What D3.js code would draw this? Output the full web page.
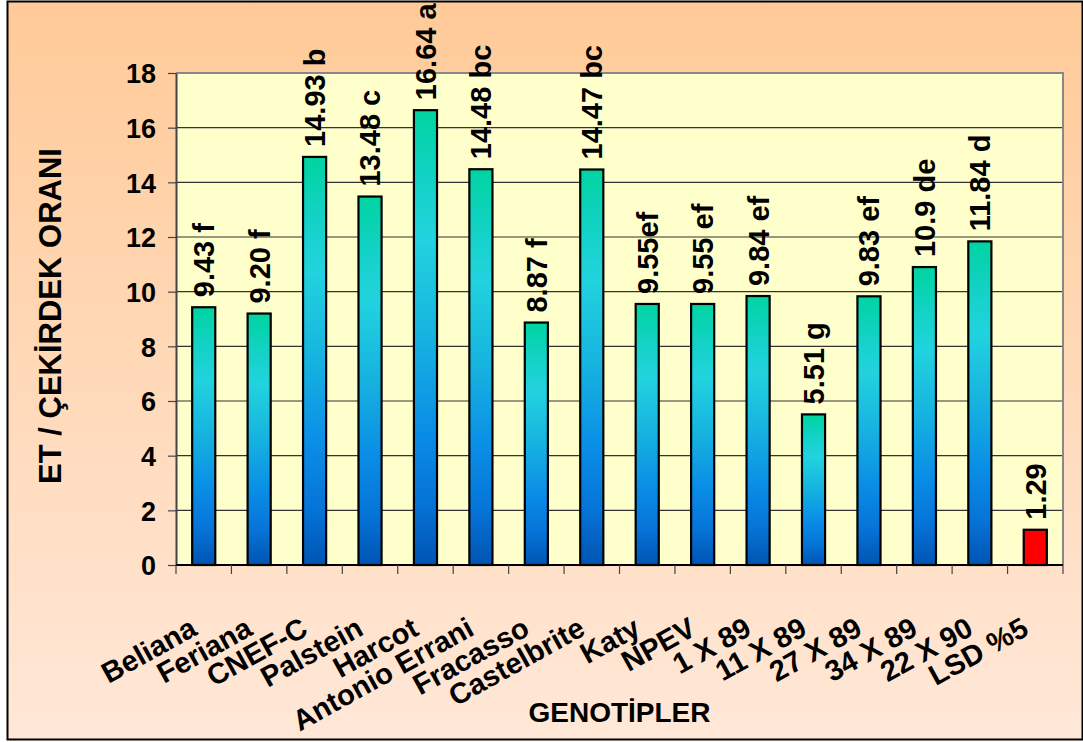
<!DOCTYPE html>
<html><head><meta charset="utf-8">
<script src="https://cdn.jsdelivr.net/npm/d3@7"></script>
<style>html,body{margin:0;padding:0;background:#fff;}svg{display:block;}</style>
</head><body>
<script>
const categories = ["Beliana","Feriana","CNEF-C","Palstein","Harcot","Antonio Errani","Fracasso","Castelbrite","Katy","NPEV","1 X 89","11 X 89","27 X 89","34 X 89","22 X 90","LSD %5"];
const values = [9.43, 9.20, 14.93, 13.48, 16.64, 14.48, 8.87, 14.47, 9.55, 9.55, 9.84, 5.51, 9.83, 10.9, 11.84, 1.29];
const valueLabels = ["9.43 f","9.20 f","14.93 b","13.48 c","16.64 a","14.48 bc","8.87 f","14.47 bc","9.55ef","9.55 ef","9.84 ef","5.51 g","9.83 ef","10.9 de","11.84 d","1.29"];
const yTicks = [0,2,4,6,8,10,12,14,16,18];
const yTitle = "ET / ÇEKİRDEK ORANI";
const xTitle = "GENOTİPLER";

const W = 1083, H = 742;
const plot = {left:176, right:1063, top:73, bottom:565};
const font = "Arial, 'Liberation Sans', sans-serif";

const svg = d3.select("body").append("svg").attr("width", W).attr("height", H);
const defs = svg.append("defs");
const bg = defs.append("linearGradient").attr("id","bg").attr("x1",0).attr("y1",0).attr("x2",0).attr("y2",1);
bg.append("stop").attr("offset","0%").attr("stop-color","#FFCA98");
bg.append("stop").attr("offset","100%").attr("stop-color","#FFE8D8");
const bar = defs.append("linearGradient").attr("id","bar").attr("x1",0).attr("y1",0).attr("x2",0).attr("y2",1);
[["0%","#00D4A0"],["14%","#12D2C4"],["28%","#22D3DE"],["50%","#16B2E0"],["70%","#0A8EE6"],["86%","#0674D8"],["100%","#0054B2"]]
  .forEach(([o,c]) => bar.append("stop").attr("offset",o).attr("stop-color",c));

svg.append("rect").attr("x",7.5).attr("y",1.5).attr("width",1075).attr("height",738)
  .attr("fill","url(#bg)").attr("stroke","#000").attr("stroke-width",2);

const x = d3.scaleBand().domain(categories).range([plot.left, plot.right]).paddingInner(1.4/2.4).paddingOuter(0.7/2.4);
const y = d3.scaleLinear().domain([0,18]).range([plot.bottom, plot.top]);
const step = x.step();

// plot area
svg.append("rect").attr("x",plot.left).attr("y",plot.top).attr("width",plot.right-plot.left).attr("height",plot.bottom-plot.top)
  .attr("fill","#FFFFCC");
// gridlines
svg.append("g").selectAll("line").data(yTicks.filter(d=>d>0)).join("line")
  .attr("x1",plot.left).attr("x2",plot.right).attr("y1",d=>y(d)).attr("y2",d=>y(d))
  .attr("stroke","#333").attr("stroke-width",1.2);
// plot border top/right
svg.append("path").attr("d",`M${plot.left},${plot.top}H${plot.right}V${plot.bottom}`)
  .attr("fill","none").attr("stroke","#888").attr("stroke-width",2);

// y axis
const yAxis = d3.axisLeft(y).tickValues(yTicks).tickSize(8).tickPadding(12).tickSizeOuter(0);
const yg = svg.append("g").attr("transform",`translate(${plot.left},0)`).call(yAxis);
yg.select(".domain").attr("stroke","#444").attr("stroke-width",2);
yg.selectAll(".tick line").attr("stroke","#444").attr("stroke-width",1.2);
yg.selectAll(".tick text").attr("font-family",font).attr("font-weight","bold").attr("font-size",27).attr("fill","#000").attr("dy","0.36em");

// bars
svg.append("g").selectAll("rect").data(values).join("rect")
  .attr("x",(d,i)=>x(categories[i])).attr("width",x.bandwidth())
  .attr("y",d=>y(d)).attr("height",d=>y(0)-y(d))
  .attr("fill",(d,i)=> categories[i]==="LSD %5" ? "#FF0000" : "url(#bar)")
  .attr("stroke","#000").attr("stroke-width",2.2);

// x axis
const xg = svg.append("g");
xg.append("line").attr("x1",plot.left).attr("x2",plot.right).attr("y1",plot.bottom).attr("y2",plot.bottom)
  .attr("stroke","#000").attr("stroke-width",2);
const bounds = d3.range(categories.length+1).map(i => plot.left + i*step);
xg.selectAll("line.t").data(bounds).join("line").attr("class","t")
  .attr("x1",d=>d).attr("x2",d=>d).attr("y1",plot.bottom).attr("y2",plot.bottom+9)
  .attr("stroke","#444").attr("stroke-width",1.2);
xg.selectAll("text").data(categories).join("text")
  .attr("transform",d=>`translate(${x(d)+x.bandwidth()/2-5},${plot.bottom+69}) rotate(-29)`)
  .attr("text-anchor","end").attr("font-family",font).attr("font-weight","bold").attr("font-size",29)
  .attr("fill","#000").text(d=>d);

// value labels
svg.append("g").selectAll("text").data(values).join("text")
  .attr("transform",(d,i)=>`translate(${x(categories[i])+x.bandwidth()/2},${y(d)-10}) rotate(-90)`)
  .attr("text-anchor","start").attr("dy","0.36em")
  .attr("font-family",font).attr("font-weight","bold").attr("font-size",29).attr("fill","#000")
  .text((d,i)=>valueLabels[i]);

// titles
svg.append("text").attr("x",(plot.left+plot.right)/2).attr("y",722).attr("text-anchor","middle")
  .attr("font-family",font).attr("font-weight","bold").attr("font-size",28).text(xTitle);
svg.append("text").attr("transform",`translate(61,316) rotate(-90)`).attr("text-anchor","middle")
  .attr("font-family",font).attr("font-weight","bold").attr("font-size",31).text(yTitle);
</script>
</body></html>
